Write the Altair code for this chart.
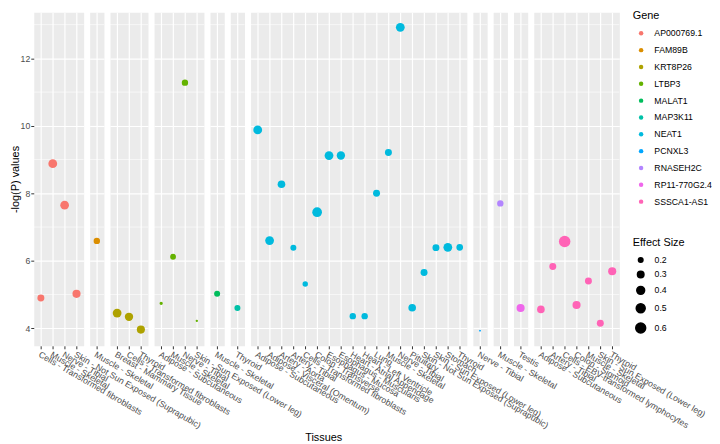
import altair as alt
import pandas as pd

FONT = "Liberation Sans"

genes = ["AP000769.1", "FAM89B", "KRT8P26", "LTBP3", "MALAT1", "MAP3K11",
         "NEAT1", "PCNXL3", "RNASEH2C", "RP11-770G2.4", "SSSCA1-AS1"]
palette = ["#F8766D", "#DB8E00", "#AEA200", "#64B200", "#00BD5C", "#00C1A7",
           "#00BADE", "#00A6FF", "#B385FF", "#EF67EB", "#FF63B6"]

point_gene = (["AP000769.1"] * 4 + ["FAM89B"] + ["KRT8P26"] * 3 + ["LTBP3"] * 4 +
              ["MALAT1"] + ["MAP3K11"] + ["NEAT1"] * 18 + ["PCNXL3"] + ["RNASEH2C"] +
              ["RP11-770G2.4"] + ["SSSCA1-AS1"] * 7)
point_tissue = [
    "Cells - Transformed fibroblasts", "Muscle - Skeletal", "Nerve - Tibial",
    "Skin - Not Sun Exposed (Suprapubic)",
    "Muscle - Skeletal",
    "Breast - Mammary Tissue", "Cells - Transformed fibroblasts", "Thyroid",
    "Adipose - Subcutaneous", "Muscle - Skeletal", "Nerve - Tibial",
    "Skin - Sun Exposed (Lower leg)",
    "Muscle - Skeletal",
    "Thyroid",
    "Adipose - Subcutaneous", "Adipose - Visceral (Omentum)", "Artery - Aorta",
    "Artery - Tibial", "Cells - Transformed fibroblasts", "Colon - Transverse",
    "Esophagus - Mucosa", "Esophagus - Muscularis", "Heart - Atrial Appendage",
    "Heart - Left Ventricle", "Lung", "Muscle - Skeletal", "Nerve - Tibial",
    "Pituitary", "Skin - Not Sun Exposed (Suprapubic)",
    "Skin - Sun Exposed (Lower leg)", "Stomach", "Thyroid",
    "Nerve - Tibial",
    "Muscle - Skeletal",
    "Testis",
    "Adipose - Subcutaneous", "Artery - Tibial",
    "Cells - EBV-transformed lymphocytes", "Colon - Sigmoid", "Muscle - Skeletal",
    "Skin - Sun Exposed (Lower leg)", "Thyroid",
]
point_logp = [
    4.90, 8.88, 7.65, 5.02,
    6.59,
    4.45, 4.34, 3.96,
    4.74, 6.12, 11.28, 4.22,
    5.02,
    4.60,
    9.88, 6.60, 8.27, 6.39, 5.31, 7.44, 9.12, 9.12, 4.36, 4.36, 8.00, 9.21,
    12.92, 4.61, 5.65, 6.39, 6.40, 6.40,
    3.93,
    7.70,
    4.60,
    4.56, 5.83, 6.57, 4.69, 5.40, 4.15, 5.69,
]
point_effect = [
    0.33, 0.48, 0.47, 0.42,
    0.29,
    0.48, 0.44, 0.42,
    0.17, 0.26, 0.29, 0.155,
    0.27,
    0.27,
    0.48, 0.48, 0.38, 0.27, 0.24, 0.58, 0.48, 0.44, 0.29, 0.29, 0.33, 0.33,
    0.48, 0.38, 0.33, 0.33, 0.48, 0.31,
    0.15,
    0.29,
    0.42,
    0.38, 0.33, 0.79, 0.42, 0.33, 0.33, 0.42,
]

y_major = [4, 6, 8, 10, 12]
y_minor = [5, 7, 9, 11, 13]
size_legend_values = [0.2, 0.3, 0.4, 0.5, 0.6]

df = pd.DataFrame({"gene": point_gene, "tissue": point_tissue,
                   "logp": point_logp, "effect": point_effect})
minor_df = pd.DataFrame({"v": y_minor})

y_scale = alt.Scale(domain=[3.48, 13.37], nice=False, zero=False)
size_scale = alt.Scale(domain=[0.15, 0.19, 0.31, 0.47, 0.63, 0.79],
                       range=[3.7, 18.9, 45.7, 76.8, 106, 134.4])
color_scale = alt.Scale(domain=genes, range=palette)

STEP = 12
HEIGHT = 337

panels = []
for i, g in enumerate(genes):
    tissues = [t for gg, t in zip(point_gene, point_tissue) if gg == g]
    n = len(tissues)
    width = STEP * (n + 0.2)
    if i == 0:
        yaxis = alt.Axis(values=y_major, grid=True, gridColor="white", gridWidth=1.2,
                         domain=False, tickColor="#333333", tickSize=3, tickWidth=1,
                         labelColor="#4D4D4D", labelFontSize=8.8, labelFont=FONT,
                         labelPadding=1, title="-log(P) values", titlePadding=0,
                         titleFontSize=11, titleFont=FONT, titleFontWeight="normal",
                         titleColor="black")
    else:
        yaxis = alt.Axis(values=y_major, grid=True, gridColor="white", gridWidth=1.2,
                         domain=False, ticks=False, labels=False, title=None)
    xaxis = alt.Axis(grid=True, gridColor="white", gridWidth=1.2, domain=False,
                     tickColor="#333333", tickSize=3, tickWidth=1,
                     labelAngle=30, labelAlign="left", labelBaseline="top",
                     labelColor="#4D4D4D", labelFontSize=8.8, labelFont=FONT,
                     labelPadding=1, labelOverlap=False, labelLimit=0,
                     labelFlush=False, title=None)
    minor = alt.Chart(minor_df).mark_rule(color="white", strokeWidth=0.6).encode(
        y=alt.Y("v:Q", scale=y_scale, axis=yaxis)
    )
    pts = alt.Chart(df).transform_filter(alt.datum.gene == g).mark_circle(
        opacity=1
    ).encode(
        x=alt.X("tissue:N", sort=tissues,
                scale=alt.Scale(type="point", padding=0.6), axis=xaxis),
        y=alt.Y("logp:Q", scale=y_scale, axis=yaxis),
        color=alt.Color("gene:N", scale=color_scale,
                        legend=alt.Legend(title="Gene", symbolSize=20,
                                          symbolType="circle", rowPadding=7,
                                          symbolOffset=4,
                                          labelFontSize=8.8, labelFont=FONT,
                                          labelColor="black", titleFontSize=11,
                                          titleFont=FONT, titleFontWeight="normal",
                                          titleColor="black", titlePadding=8,
                                          labelOffset=9, orient="none",
                                          legendX=605, legendY=-2)),
        size=alt.Size("effect:Q", scale=size_scale,
                      legend=alt.Legend(title="Effect Size", values=size_legend_values,
                                        symbolFillColor="black",
                                        symbolStrokeColor="black",
                                        symbolType="circle", rowPadding=2.5,
                                        symbolOffset=2,
                                        labelFontSize=8.8, labelFont=FONT,
                                        labelColor="black", titleFontSize=11,
                                        titleFont=FONT, titleFontWeight="normal",
                                        titleColor="black", titlePadding=8,
                                        labelOffset=8, orient="none",
                                        legendX=605, legendY=227)),
    )
    panels.append(alt.layer(minor, pts).properties(width=width, height=HEIGHT))

chart = alt.hconcat(*panels, spacing=5.5, bounds="flush").properties(
    title=alt.TitleParams(text="Tissues", orient="bottom", anchor="middle",
                          fontSize=11, font=FONT, fontWeight="normal",
                          color="black", offset=2, dx=-37),
    padding={"left": 0, "top": 0, "right": 0, "bottom": 0},
).configure_view(
    fill="#EBEBEB", stroke="transparent"
)

chart.save("out.html", embed_options={"renderer": "svg", "actions": False})
